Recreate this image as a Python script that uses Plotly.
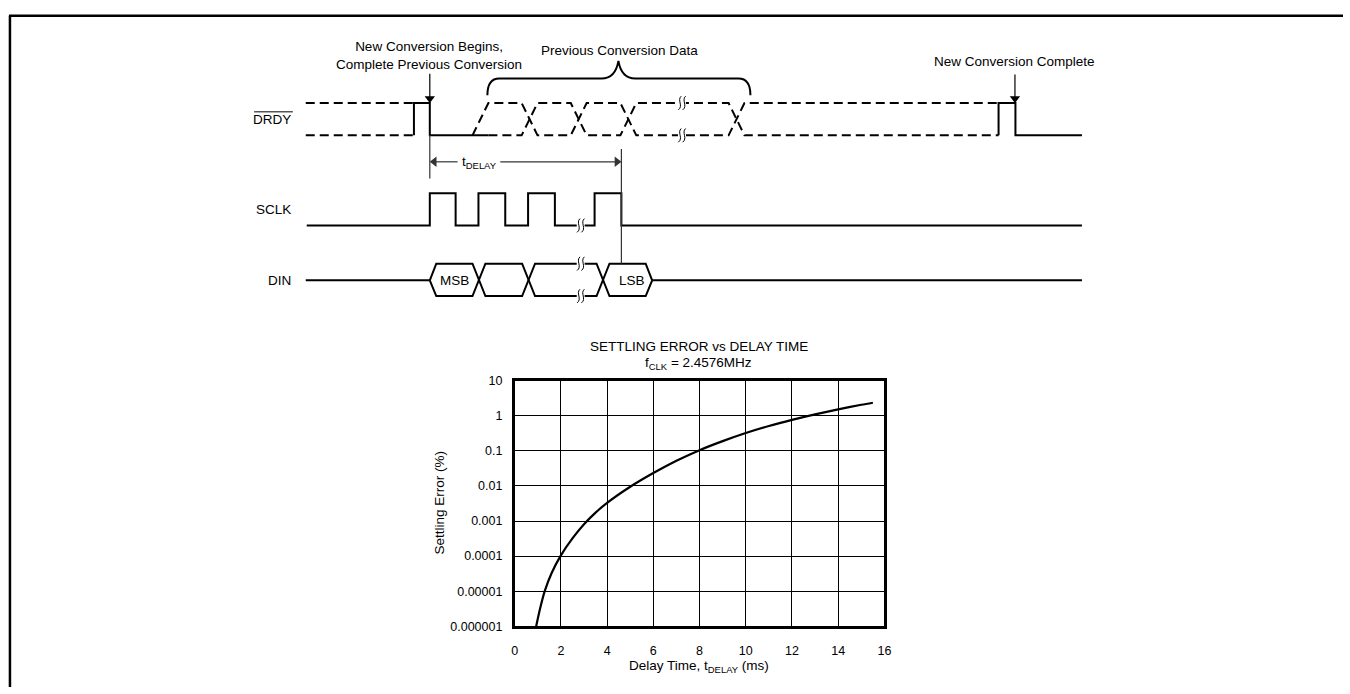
import plotly.graph_objects as go

# ---------------- data: settling error curve ----------------
delay_ms = [0.93, 1.1, 1.3, 1.6, 2.0, 2.5, 3.0, 3.5, 4.0, 5.0, 6.0, 7.0, 8.0, 9.0,
            10.0, 11.0, 12.0, 13.0, 14.0, 15.0, 15.5]
settling_err = [1e-6, 3.2e-6, 1e-5, 3.3e-5, 1.05e-4, 3.2e-4, 8.1e-4, 1.74e-3, 3.3e-3, 9.5e-3,
                0.0234, 0.0525, 0.105, 0.19, 0.324, 0.513, 0.767, 1.1, 1.53, 2.07, 2.37]
x_ticks = [0, 2, 4, 6, 8, 10, 12, 14, 16]
y_tickvals = [1e-6, 1e-5, 1e-4, 1e-3, 1e-2, 1e-1, 1, 10]
y_ticktext = ["0.000001", "0.00001", "0.0001", "0.001", "0.01", "0.1", "1", "10"]

# ---------------- timing diagram (diagram pixel units) ----------------
signal_names = ["DRDY", "SCLK", "DIN"]
drdy_hi, drdy_lo = 98, 131
sclk_hi, sclk_lo = 190, 223
din_top, din_mid, din_bot = 262, 279, 295
x_start, x_end = 306, 1087
sclk_edges = [430, 456, 479, 506, 529, 556, 596, 623]   # rise/fall alternating
drdy_cross = [530.5, 580, 630, 739]                       # data transitions
din_cross = [479.5, 529.5, 604.5]
din_tips = [430, 654]

FONT = "Liberation Sans, Arial, sans-serif"
BLACK = "#000"
GREY = "#333"
fig = go.Figure()


def line(xs, ys, width=2, dash="solid", color=BLACK, shape="linear"):
    fig.add_trace(go.Scatter(x=xs, y=ys, mode="lines", xaxis="x", yaxis="y",
                             line=dict(color=color, width=width, dash=dash, shape=shape),
                             hoverinfo="skip", showlegend=False))


def arrow(hx, hy, tx, ty, color=BLACK, width=1.2, size=9):
    """shaft from tail (tx,ty) to head (hx,hy) with a filled triangle head"""
    if hx == tx:
        d = 1 if hy > ty else -1
        cx, cy = hx, hy - d * size * 0.5
        sym = "triangle-down" if d > 0 else "triangle-up"
    else:
        d = 1 if hx > tx else -1
        cx, cy = hx - d * size * 0.5, hy
        sym = "triangle-right" if d > 0 else "triangle-left"
    line([tx, cx], [ty, cy], width=width, color=color)
    fig.add_trace(go.Scatter(x=[cx], y=[cy], mode="markers", xaxis="x", yaxis="y",
                             marker=dict(symbol=sym, size=size, color=color, line=dict(width=0)),
                             hoverinfo="skip", showlegend=False))


DASH = "9px,5px"
# DRDY left dashed
line([305, 414], [drdy_hi, drdy_hi], dash=DASH)
line([305, 414], [drdy_lo, drdy_lo], dash=DASH)
# DRDY first pulse (solid)
line([414, 414, 430, 430, 489], [drdy_lo, drdy_hi, drdy_hi, drdy_lo, drdy_lo])
# DRDY previous data (dashed contours)
h = 8
ux = [473, 489]
uy = [drdy_lo, drdy_hi]
lx = [489]
ly = [drdy_lo]
state_u = drdy_hi
for c in drdy_cross:
    other = drdy_lo if state_u == drdy_hi else drdy_hi
    ux += [c - h, c + h]
    uy += [state_u, other]
    lx += [c - h, c + h]
    ly += [other, state_u]
    state_u = other
ux.append(1003); uy.append(uy[-1])
lx.append(1003); ly.append(ly[-1])
line(ux, uy, dash=DASH)
line(lx, ly, dash=DASH)
# DRDY second pulse
line([1003, 1003, 1020, 1020, x_end], [drdy_lo, drdy_hi, drdy_hi, drdy_lo, drdy_lo])

# SCLK
sx = [x_start]
sy = [sclk_lo]
lvl = sclk_lo
for e in sclk_edges:
    sx += [e, e]
    nl = sclk_hi if lvl == sclk_lo else sclk_lo
    sy += [lvl, nl]
    lvl = nl
sx.append(x_end); sy.append(sclk_lo)
line(sx, sy)

# DIN
hw = 6.5
line([305, din_tips[0]], [din_mid, din_mid])
line([din_tips[1], x_end], [din_mid, din_mid])
upx = [din_tips[0], din_tips[0] + hw]
upy = [din_mid, din_top]
lox = [din_tips[0], din_tips[0] + hw]
loy = [din_mid, din_bot]
su, sl = din_top, din_bot
for c in din_cross:
    upx += [c - hw, c + hw]; upy += [su, sl]
    lox += [c - hw, c + hw]; loy += [sl, su]
    su, sl = sl, su
upx += [din_tips[1] - hw, din_tips[1]]; upy += [su, din_mid]
lox += [din_tips[1] - hw, din_tips[1]]; loy += [sl, din_mid]
line(upx, upy)
line(lox, loy)

# tDELAY markers
line([430, 430], [drdy_lo, 175], width=1.2, color=GREY)
line([623, 623], [145, din_top], width=1.2, color=GREY)
arrow(430, 158, 458, 158, color=GREY)
arrow(623, 158, 501, 158, color=GREY)
# annotation arrows
arrow(430, 98, 430, 68)
arrow(1019.5, 98, 1019.5, 69)

shapes = []
# frame (left and top)
shapes.append(dict(type="line", xref="x", yref="y", x0=7, x1=7, y0=9, y1=700,
                   line=dict(color=BLACK, width=2.5)))
shapes.append(dict(type="line", xref="x", yref="y", x0=6, x1=1360, y0=9, y1=9,
                   line=dict(color=BLACK, width=2.5)))
# DRDY overline
shapes.append(dict(type="line", xref="x", yref="y", x0=253, x1=292, y0=107, y1=107,
                   line=dict(color=BLACK, width=1)))
# brace
shapes.append(dict(type="path", xref="x", yref="y",
                   path="M 488,90 Q 488,73 500,73 L 603,73 Q 617,73 620,55 "
                        "Q 623,73 637,73 L 741,73 Q 753,73 753,90",
                   line=dict(color=BLACK, width=2)))
# break symbols
for bx, by in [(684, drdy_hi), (684, drdy_lo), (582, sclk_lo), (582, din_top), (582, din_bot)]:
    shapes.append(dict(type="rect", xref="x", yref="y", x0=bx - 4, x1=bx + 4, y0=by - 2, y1=by + 2,
                       fillcolor="white", line=dict(width=0)))
    for dx in (-2.2, 2.2):
        x0 = bx + dx
        shapes.append(dict(type="path", xref="x", yref="y",
                           path=f"M {x0+1.5},{by-7} C {x0-3},{by-3} {x0+4},{by+3} {x0-1.5},{by+7}",
                           line=dict(color=BLACK, width=1)))

ann = []
tf = dict(family=FONT, size=13.5, color=BLACK)
for name, yy in zip(signal_names, [114.5, 206.5, din_mid]):
    ann.append(dict(x=292, y=yy, xref="x", yref="y", text=name, showarrow=False,
                    xanchor="right", yanchor="middle", font=tf))
ann.append(dict(x=429, y=49, xref="x", yref="y",
                text="New Conversion Begins,<br>Complete Previous Conversion",
                showarrow=False, xanchor="center", yanchor="middle", font=tf))
ann.append(dict(x=621, y=44, xref="x", yref="y", text="Previous Conversion Data",
                showarrow=False, xanchor="center", yanchor="middle", font=tf))
ann.append(dict(x=1019, y=56, xref="x", yref="y", text="New Conversion Complete",
                showarrow=False, xanchor="center", yanchor="middle", font=tf))
ann.append(dict(x=480, y=159, xref="x", yref="y", text="t<sub>DELAY</sub>",
                showarrow=False, xanchor="center", yanchor="middle", font=tf))
ann.append(dict(x=455, y=279, xref="x", yref="y", text="MSB",
                showarrow=False, xanchor="center", yanchor="middle", font=tf))
ann.append(dict(x=634, y=279, xref="x", yref="y", text="LSB",
                showarrow=False, xanchor="center", yanchor="middle", font=tf))

# chart texts
ann.append(dict(x=701, y=346, xref="x", yref="y", text="SETTLING ERROR vs DELAY TIME",
                showarrow=False, xanchor="center", yanchor="middle", font=tf))
ann.append(dict(x=701, y=364, xref="x", yref="y", text="f<sub>CLK</sub> = 2.4576MHz",
                showarrow=False, xanchor="center", yanchor="middle", font=tf))
ann.append(dict(x=701, y=673, xref="x", yref="y", text="Delay Time, t<sub>DELAY</sub> (ms)",
                showarrow=False, xanchor="center", yanchor="middle", font=tf))
ann.append(dict(x=440, y=506, xref="x", yref="y", text="Settling Error (%)", textangle=-90,
                showarrow=False, xanchor="center", yanchor="middle", font=tf))

# settling error curve
fig.add_trace(go.Scatter(x=delay_ms, y=settling_err, mode="lines", xaxis="x2", yaxis="y2",
                         line=dict(color=BLACK, width=2.2, shape="spline", smoothing=0.8),
                         hoverinfo="skip", showlegend=False))

W, H = 1350, 694
px0, px1 = 515.5, 888
py0, py1 = 381.5, 632
fig.update_layout(
    width=W, height=H, margin=dict(l=0, r=0, t=0, b=0, pad=0),
    paper_bgcolor="white", plot_bgcolor="white", showlegend=False,
    xaxis=dict(domain=[0, 1], range=[0, W], visible=False, fixedrange=True),
    yaxis=dict(domain=[0, 1], range=[H, 0], visible=False, fixedrange=True),
    xaxis2=dict(domain=[px0 / W, px1 / W], anchor="y2", range=[0, 16], tickvals=x_ticks,
                showgrid=True, gridcolor=BLACK, gridwidth=1.2, zeroline=False,
                showline=True, mirror=True, linecolor=BLACK, linewidth=2.5,
                ticks="", ticklabelstandoff=11,
                tickfont=dict(family=FONT, size=12.5, color=BLACK)),
    yaxis2=dict(domain=[(H - py1) / H, (H - py0) / H], anchor="x2", type="log", range=[-6, 1],
                tickvals=y_tickvals, ticktext=y_ticktext,
                showgrid=True, gridcolor=BLACK, gridwidth=1.2, zeroline=False,
                showline=True, mirror=True, linecolor=BLACK, linewidth=2.5,
                ticks="", ticklabelstandoff=7,
                tickfont=dict(family=FONT, size=12.5, color=BLACK)),
    shapes=shapes, annotations=ann,
)

fig.write_html("out.html", config={"displayModeBar": False},
               post_script="document.body.style.margin='0';document.body.style.overflow='hidden';")
